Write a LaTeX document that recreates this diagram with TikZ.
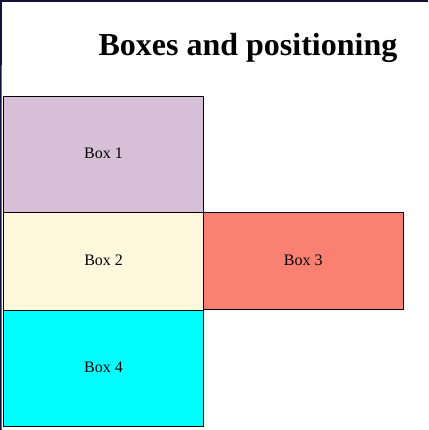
\documentclass[tikz,border=0pt]{standalone}
\usepackage{fontspec}
\setmainfont{Liberation Serif}
\definecolor{navyedge}{HTML}{12123A}
\definecolor{navylight}{HTML}{6A6A9A}
\definecolor{boxthistle}{HTML}{D8BFD8}
\definecolor{boxcornsilk}{HTML}{FFF8DC}
\definecolor{boxsalmon}{HTML}{FA8072}
\definecolor{boxaqua}{HTML}{00FFFF}
\tikzset{
  boxnode/.style={draw=black, line width=1pt, minimum width=200pt, anchor=north west,
    inner sep=0pt, text depth=2pt, font=\fontsize{16pt}{18pt}\selectfont},
}
\begin{document}
\begin{tikzpicture}[x=1pt,y=-1pt]
\useasboundingbox (0,0) rectangle (428,430);
\fill[white] (0,0) rectangle (428,430);
% frame edges
\fill[navyedge] (0,0) rectangle (428,1.6);
\fill[navyedge] (0,0) rectangle (2,65);
\fill[navylight] (0,65) rectangle (2,430);
\fill[navyedge] (0,65) rectangle (1,430);
% title
\node[font=\bfseries\fontsize{32pt}{36pt}\selectfont, anchor=base] (title) at (248,56) {Boxes and positioning};
% boxes
\node[boxnode, fill=boxthistle, minimum height=116pt] (box1) at (3,96) {Box 1};
\node[boxnode, fill=boxcornsilk, minimum height=98pt, line width=1.3pt] (box2) at (3,212) {Box 2};
\node[boxnode, fill=boxsalmon, minimum height=97pt, minimum width=199.5pt] (box3) at (203,212) {Box 3};
\node[boxnode, fill=boxaqua, minimum height=115.5pt] (box4) at (3,310) {Box 4};
\end{tikzpicture}
\end{document}
